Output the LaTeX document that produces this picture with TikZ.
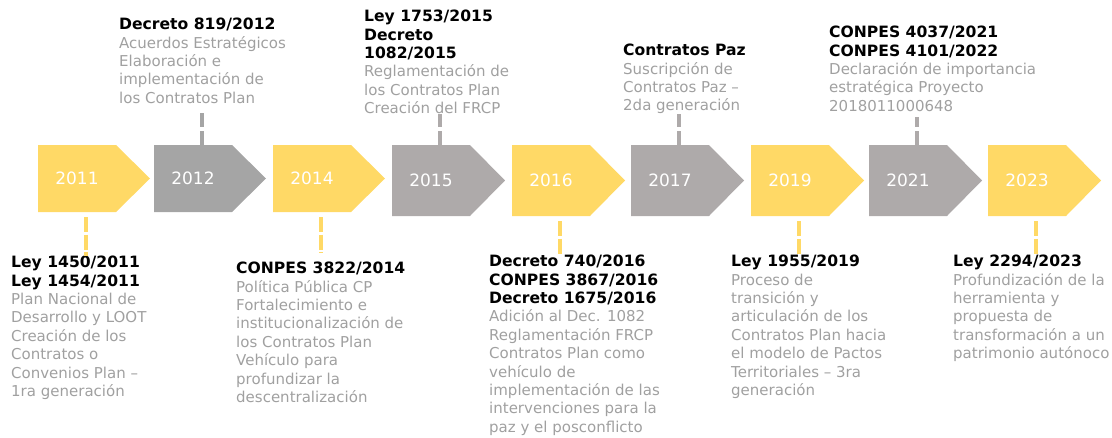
\documentclass[tikz,border=0pt]{standalone}
\usepackage{fontspec}
\setmainfont{DejaVu Sans}
\definecolor{ylw}{HTML}{FFD966}
\definecolor{gry}{HTML}{A5A5A5}
\definecolor{gryb}{HTML}{AEAAAA}
\definecolor{txtg}{HTML}{A0A0A0}
\newcommand\hd[1]{{\color{black}\fontsize{15.6}{18.4}\selectfont\bfseries #1}}
\tikzset{
  yr/.style={minimum width=78pt,inner sep=0pt,text=white,font=\fontsize{17}{20}\selectfont},
  txt/.style={anchor=north west,align=left,inner sep=0pt,text=txtg,font=\fontsize{15}{18.4}\selectfont},
  up/.style={line width=4pt,dash pattern=on 14pt off 4pt},
  down/.style={line width=4pt,ylw,dash pattern=on 15pt off 2.5pt,shorten <=5pt}
}
\begin{document}
\begin{tikzpicture}[x=1pt,y=-1pt]
  \useasboundingbox (0,0) rectangle (1112,437);
  \fill[ylw] (38,145) -- ++(78,0) -- ++(34,33.5) -- ++(-34,33.5) -- ++(-78,0) -- cycle
    (77,178.5) node[yr,minimum height=67pt] (y11) {2011};
  \fill[gry] (154,145) -- ++(78,0) -- ++(34,33.5) -- ++(-34,33.5) -- ++(-78,0) -- cycle
    (193,178.5) node[yr,minimum height=67pt] (y12) {2012};
  \fill[ylw] (273,145) -- ++(78,0) -- ++(34,33.5) -- ++(-34,33.5) -- ++(-78,0) -- cycle
    (312,178.5) node[yr,minimum height=67pt] (y14) {2014};
  \fill[gryb] (392,145) -- ++(78,0) -- ++(35,35.5) -- ++(-35,35.5) -- ++(-78,0) -- cycle
    (431,180.5) node[yr,minimum height=71pt] (y15) {2015};
  \fill[ylw] (512,145) -- ++(78,0) -- ++(35,35.5) -- ++(-35,35.5) -- ++(-78,0) -- cycle
    (551,180.5) node[yr,minimum height=71pt] (y16) {2016};
  \fill[gryb] (631,145) -- ++(78,0) -- ++(35,35.5) -- ++(-35,35.5) -- ++(-78,0) -- cycle
    (670,180.5) node[yr,minimum height=71pt] (y17) {2017};
  \fill[ylw] (751,145) -- ++(78,0) -- ++(35,35.5) -- ++(-35,35.5) -- ++(-78,0) -- cycle
    (790,180.5) node[yr,minimum height=71pt] (y19) {2019};
  \fill[gryb] (869,145) -- ++(78,0) -- ++(35,35.5) -- ++(-35,35.5) -- ++(-78,0) -- cycle
    (908,180.5) node[yr,minimum height=71pt] (y21) {2021};
  \fill[ylw] (988,145) -- ++(78,0) -- ++(35,35.5) -- ++(-35,35.5) -- ++(-78,0) -- cycle
    (1027,180.5) node[yr,minimum height=71pt] (y23) {2023};

  \node[txt] (t12) at (119,18) {\hd{Decreto 819/2012}\\Acuerdos Estratégicos\\Elaboración e\\implementación de\\los Contratos Plan};
  \node[txt] (t15) at (364,10) {\hd{Ley 1753/2015}\\\hd{Decreto}\\\hd{1082/2015}\\Reglamentación de\\los Contratos Plan\\Creación del FRCP};
  \node[txt] (t17) at (623,44) {\hd{Contratos Paz}\\Suscripción de\\Contratos Paz --\\2da generación};
  \node[txt] (t21) at (829,26) {\hd{CONPES 4037/2021}\\\hd{CONPES 4101/2022}\\Declaración de importancia\\estratégica Proyecto\\2018011000648};
  \node[txt] (t11) at (11,256) {\hd{Ley 1450/2011}\\\hd{Ley 1454/2011}\\Plan Nacional de\\Desarrollo y LOOT\\Creación de los\\Contratos o\\Convenios Plan --\\1ra generación};
  \node[txt] (t14) at (236,262) {\hd{CONPES 3822/2014}\\Política Pública CP\\Fortalecimiento e\\institucionalización de\\los Contratos Plan\\Vehículo para\\profundizar la\\descentralización};
  \node[txt] (t16) at (489,255) {\hd{Decreto 740/2016}\\\hd{CONPES 3867/2016}\\\hd{Decreto 1675/2016}\\Adición al Dec. 1082\\Reglamentación FRCP\\Contratos Plan como\\vehículo de\\implementación de las\\intervenciones para la\\paz y el posconflicto};
  \node[txt] (t19) at (731,255) {\hd{Ley 1955/2019}\\Proceso de\\transición y\\articulación de los\\Contratos Plan hacia\\el modelo de Pactos\\Territoriales -- 3ra\\generación};
  \node[txt] (t23) at (953,255) {\hd{Ley 2294/2023}\\Profundización de la\\herramienta y\\propuesta de\\transformación a un\\patrimonio autónoco};

  \path ([xshift=9pt]y12.north) coordinate (c12)
    ([xshift=9pt]y15.north) coordinate (c15)
    ([xshift=9pt]y17.north) coordinate (c17)
    ([xshift=9pt]y21.north) coordinate (c21)
    ([xshift=9pt]y11.south) coordinate (c11)
    ([xshift=9pt]y14.south) coordinate (c14)
    ([xshift=9pt]y16.south) coordinate (c16)
    ([xshift=9pt]y19.south) coordinate (c19)
    ([xshift=9pt]y23.south) coordinate (c23);
  \draw[up,gry,shorten >=9pt] (c12) -- (c12 |- t12.south);
  \draw[up,gryb] (c15) -- (c15 |- t15.south);
  \draw[up,gryb] (c17) -- (c17 |- t17.south);
  \draw[up,gryb,shorten >=5pt] (c21) -- (c21 |- t21.south);
  \draw[down] (c11) -- (c11 |- t11.north);
  \draw[down,shorten >=9pt] (c14) -- (c14 |- t14.north);
  \draw[down] (c16) -- (c16 |- t16.north);
  \draw[down] (c19) -- (c19 |- t19.north);
  \draw[down] (c23) -- (c23 |- t23.north);
\end{tikzpicture}
\end{document}
